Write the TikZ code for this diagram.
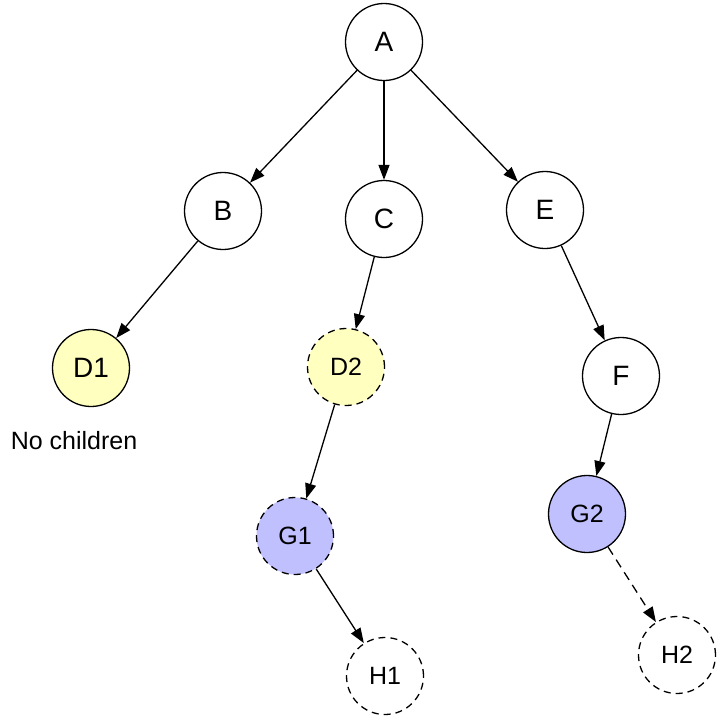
\documentclass[tikz,border=0pt]{standalone}
\usepackage{fontspec}
\setmainfont{Liberation Sans}
\usetikzlibrary{arrows.meta}
\definecolor{ylw}{RGB}{255,255,192}
\definecolor{prp}{RGB}{192,192,255}
\tikzset{
  tnode/.style={circle,draw=black,line width=1.3pt,minimum size=77pt,inner sep=0pt,font=\fontsize{28}{30}\selectfont},
  snode/.style={tnode,font=\fontsize{25}{28}\selectfont},
  dsh/.style={dash pattern=on 7pt off 5pt},
  conn/.style={line width=1.3pt,-{Triangle[length=15pt,width=11pt]}},
}
\begin{document}
\begin{tikzpicture}[x=1pt,y=-1pt]
\useasboundingbox (0,0) rectangle (718,718);
\fill[white] (0,0) rectangle (718,718);
\node[tnode] (A) at (384,42) {A};
\node[tnode] (B) at (223,211) {B};
\node[tnode] (C) at (384,219) {C};
\node[tnode] (E) at (545,210) {E};
\node[tnode,fill=ylw] (D1) at (91,368) {D1};
\node[snode,fill=ylw,dsh] (D2) at (346,367) {D2};
\node[tnode] (F) at (621,376) {F};
\node[snode,fill=prp,dsh] (G1) at (295,536) {G1};
\node[snode,fill=prp] (G2) at (587,514) {G2};
\node[snode,dsh] (H1) at (385,676) {H1};
\node[snode,dsh] (H2) at (677,655) {H2};
\node[font=\fontsize{25}{28}\selectfont] (nc) at (74,441) {No children};
\draw[conn] (A) -- (B);
\draw[conn] (A) -- (C);
\draw[conn] (A) -- (E);
\draw[conn] (B) -- (D1);
\draw[conn] (C) -- (D2);
\draw[conn] (E) -- (F);
\draw[conn] (D2) -- (G1);
\draw[conn] (F) -- (G2);
\draw[conn] (G1) -- (H1);
\draw[conn,dash pattern=on 9pt off 6pt] (G2) -- (H2);
\end{tikzpicture}
\end{document}
